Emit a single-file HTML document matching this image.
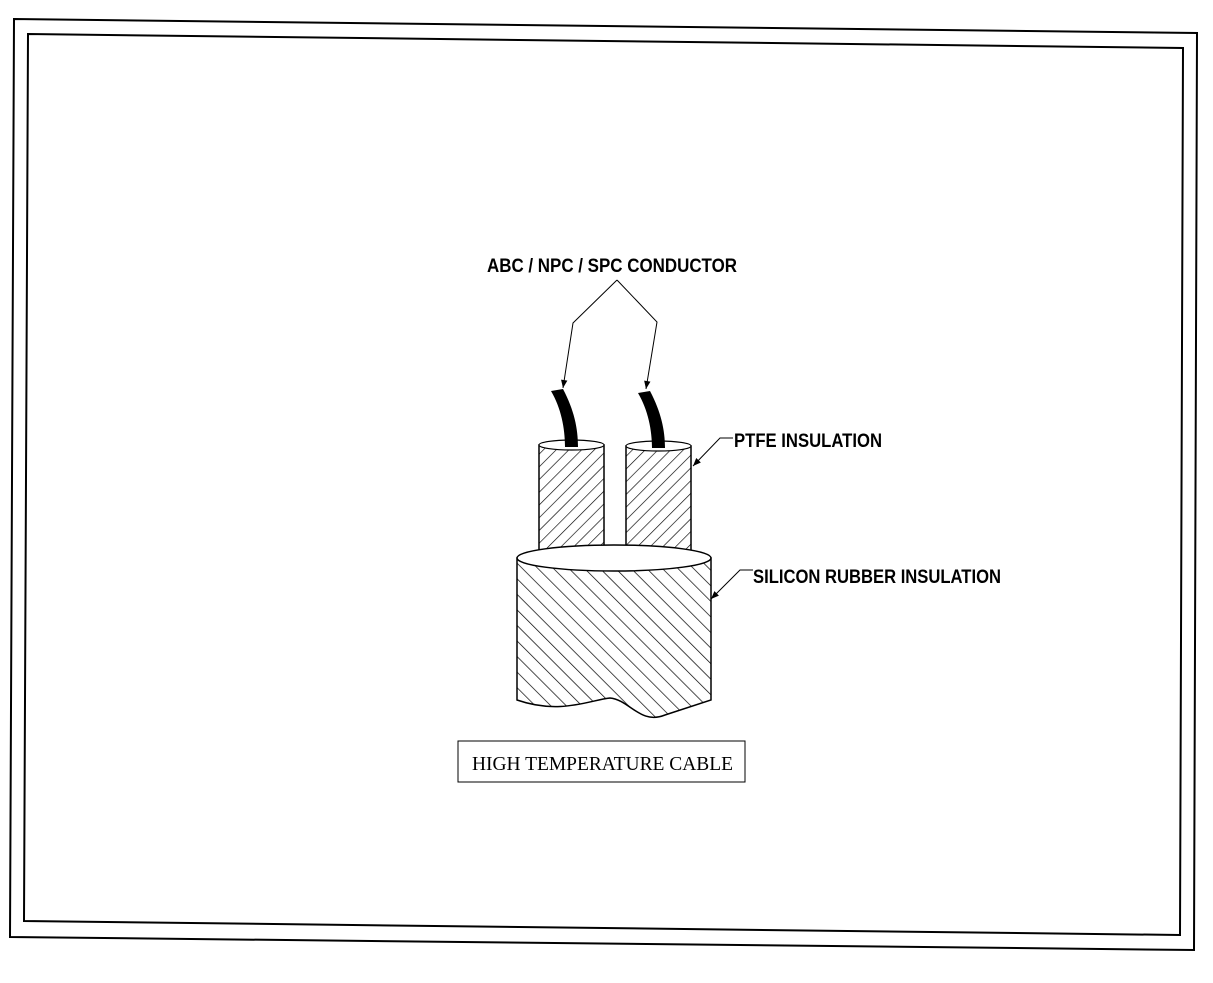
<!DOCTYPE html>
<html><head><style>body{margin:0;background:#fff}svg{display:block}</style></head><body>
<svg width="1213" height="983" viewBox="0 0 1213 983" xmlns="http://www.w3.org/2000/svg">
<defs>
<pattern id="h1" patternUnits="userSpaceOnUse" width="9" height="9" patternTransform="rotate(45)"><line x1="0" y1="0" x2="0" y2="9" stroke="#000" stroke-width="1.3"/></pattern>
<pattern id="h2" patternUnits="userSpaceOnUse" width="11" height="11" patternTransform="rotate(-45)"><line x1="0" y1="0" x2="0" y2="11" stroke="#000" stroke-width="1.4"/></pattern>
<marker id="ar" viewBox="0 0 10 10" refX="10" refY="5" markerWidth="16" markerHeight="8" orient="auto" markerUnits="userSpaceOnUse"><path d="M0,1 L10,5 L0,9z" fill="#000"/></marker>
</defs>
<polygon points="14,19 1197,33 1194,950 10,937" fill="none" stroke="#000" stroke-width="2"/>
<polygon points="28,34 1183,48 1180,935 24,921" fill="none" stroke="#000" stroke-width="2"/>
<!-- small cylinders -->
<rect x="604" y="546" width="22" height="9" fill="#fff" stroke="#000" stroke-width="1"/>
<rect x="539" y="445" width="65" height="110" fill="url(#h1)" stroke="#000" stroke-width="1.5"/>
<ellipse cx="571.5" cy="445" rx="32.5" ry="5" fill="#fff" stroke="#000" stroke-width="1.2"/>
<rect x="626" y="446" width="65" height="110" fill="url(#h1)" stroke="#000" stroke-width="1.5"/>
<ellipse cx="658.5" cy="446" rx="32.5" ry="5" fill="#fff" stroke="#000" stroke-width="1.2"/>
<!-- big cylinder -->
<path d="M517,558 L517,700 C560,715 590,700 610,698 C630,700 640,725 665,715 L711,700 L711,558 Z" fill="url(#h2)" stroke="#000" stroke-width="1.5"/>
<ellipse cx="614" cy="558" rx="97" ry="13" fill="#fff" stroke="#000" stroke-width="1.5"/>
<!-- conductors -->
<path d="M551,391 L563,389 C574,410 578,428 578,447 L565,447 C565,428 561,408 551,391Z" fill="#000"/>
<path d="M638,393 L650,391 C661,412 665,430 665,448 L652,448 C652,430 648,410 638,393Z" fill="#000"/>
<!-- leaders -->
<polyline points="617,280 573,323 563,388" fill="none" stroke="#000" stroke-width="1" marker-end="url(#ar)"/>
<polyline points="617,280 657,322 646,389" fill="none" stroke="#000" stroke-width="1" marker-end="url(#ar)"/>
<polyline points="733,438 720,438 693,466" fill="none" stroke="#000" stroke-width="1" marker-end="url(#ar)"/>
<polyline points="753,570 740,570 711,599" fill="none" stroke="#000" stroke-width="1" marker-end="url(#ar)"/>
<g font-family="Liberation Sans, sans-serif" font-weight="bold" font-size="19" fill="#000">
<text x="487" y="272" textLength="250" lengthAdjust="spacingAndGlyphs">ABC / NPC / SPC CONDUCTOR</text>
<text x="734" y="447" textLength="148" lengthAdjust="spacingAndGlyphs">PTFE INSULATION</text>
<text x="753" y="583" textLength="248" lengthAdjust="spacingAndGlyphs">SILICON RUBBER INSULATION</text>
</g>
<rect x="458" y="741" width="287" height="41" fill="none" stroke="#000" stroke-width="1"/>
<text x="472" y="770" font-family="Liberation Serif, serif" font-size="20" textLength="261" lengthAdjust="spacingAndGlyphs">HIGH TEMPERATURE CABLE</text>
</svg>
</body></html>
